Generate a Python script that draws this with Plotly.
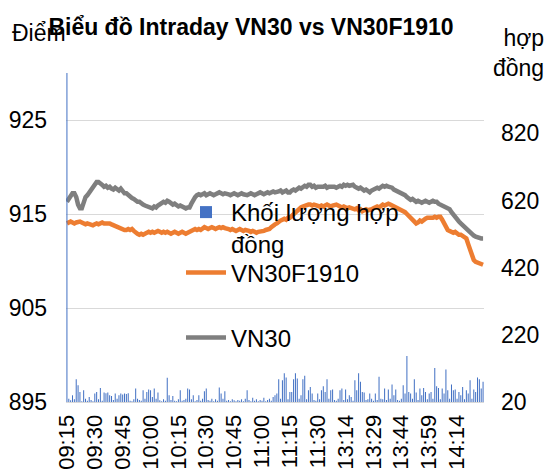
import plotly.graph_objects as go

# ---- categories (minute timestamps of the trading sessions) ----
def minutes(h0, m0, h1, m1):
    out = []
    t = h0 * 60 + m0
    while t <= h1 * 60 + m1:
        out.append(f"{t // 60:02d}:{t % 60:02d}")
        t += 1
    return out

TIMES = minutes(9, 15, 11, 30) + minutes(13, 0, 14, 28)

TICK_LABELS = ["09:15", "09:30", "09:45", "10:00", "10:15", "10:30", "10:45", "11:00",
               "11:15", "11:30", "13:14", "13:29", "13:44", "13:59", "14:14"]

VN30 = [
    916.3, 916.6, 917.0, 917.2, 917.2, 916.8, 916.0, 915.6, 915.6, 916.2, 916.8, 917.0, 917.3, 917.7, 918.0,
    918.3, 918.4, 918.4, 918.3, 918.1, 917.9, 918.0, 917.8, 917.9, 917.7, 917.6, 917.8, 917.7, 917.5, 917.7,
    917.4, 917.2, 917.2, 917.0, 916.9, 916.7, 916.6, 916.4, 916.3, 916.3, 916.1, 916.0, 915.9, 915.8, 915.7,
    915.6, 915.6, 915.8, 915.7, 915.9, 916.0, 916.1, 916.3, 916.2, 916.4, 916.3, 916.2, 916.0, 916.1, 915.9,
    915.8, 915.9, 915.8, 915.7, 915.6, 915.7, 915.7, 916.1, 916.5, 916.8, 917.0, 917.1, 917.0, 917.1, 917.2,
    917.0, 917.1, 917.2, 917.1, 917.0, 917.1, 917.2, 917.3, 917.2, 917.1, 917.2, 917.2, 917.1, 917.0, 917.1,
    917.2, 917.1, 917.0, 917.1, 917.2, 917.1, 917.0, 917.0, 917.1, 917.2, 917.1, 917.0, 917.1, 917.2, 917.3,
    917.2, 917.1, 917.2, 917.3, 917.2, 917.3, 917.4, 917.3, 917.3, 917.4, 917.5, 917.3, 917.4, 917.5, 917.3,
    917.3, 917.5, 917.6, 917.5, 917.7, 917.8, 917.7, 917.8, 918.0, 917.9, 918.1, 918.1, 917.9, 918.0, 917.8,
    917.9, 917.9, 917.8, 917.9, 918.0, 917.8, 917.9, 917.9, 918.0, 917.9, 917.8, 917.9, 918.0, 917.9, 918.1,
    918.0, 918.1, 918.0, 918.1, 918.1, 917.9, 917.8, 917.7, 917.8, 917.6, 917.5, 917.6, 917.4, 917.3, 917.5,
    917.6, 917.7, 917.8, 917.7, 917.9, 918.0, 917.9, 918.0, 917.9, 917.9, 917.8, 917.6, 917.5, 917.4, 917.3,
    917.2, 917.2, 917.0, 916.8, 916.7, 916.5, 916.6, 916.4, 916.3, 916.4, 916.3, 916.2, 916.3, 916.4, 916.3,
    916.2, 916.3, 916.4, 916.3, 916.3, 916.1, 916.0, 915.9, 915.8, 915.8, 915.7, 915.5, 915.2, 914.9, 914.6,
    914.4, 914.2, 914.0, 913.8, 913.6, 913.4, 913.2, 913.1, 912.9, 912.7, 912.6, 912.5, 912.4, 912.4, 912.4,
]

VN30F1910 = [
    914.0, 914.1, 914.2, 914.1, 914.0, 914.1, 914.2, 914.2, 914.1, 914.0, 913.9, 914.0, 913.9, 913.8, 913.8,
    913.9, 914.0, 913.9, 914.0, 914.1, 914.0, 914.0, 914.1, 914.0, 913.9, 913.8, 913.7, 913.6, 913.5, 913.4,
    913.4, 913.3, 913.3, 913.4, 913.3, 913.4, 913.2, 913.0, 912.9, 912.8, 912.9, 912.8, 912.9, 913.0, 913.1,
    913.0, 913.1, 913.0, 913.1, 913.2, 913.1, 913.0, 913.1, 913.0, 913.1, 913.0, 912.9, 913.0, 913.1, 913.0,
    912.9, 913.0, 913.1, 913.0, 912.9, 913.0, 913.1, 913.2, 913.3, 913.4, 913.3, 913.4, 913.3, 913.5, 913.6,
    913.5, 913.4, 913.5, 913.6, 913.5, 913.4, 913.5, 913.6, 913.5, 913.6, 913.5, 913.5, 913.4, 913.3, 913.4,
    913.3, 913.2, 913.3, 913.4, 913.3, 913.2, 913.3, 913.3, 913.2, 913.1, 913.2, 913.1, 913.0, 913.1, 913.1,
    913.2, 913.2, 913.3, 913.3, 913.4, 913.6, 913.8, 913.9, 914.0, 914.2, 914.3, 914.4, 914.5, 914.4, 914.6,
    914.6, 914.8, 915.0, 915.2, 915.4, 915.6, 915.7, 915.8, 915.9, 916.0, 916.0, 916.0, 915.9, 916.0, 915.9,
    915.9, 915.8, 915.9, 915.8, 915.9, 916.0, 915.9, 915.8, 915.9, 916.0, 916.0, 915.9, 915.8, 915.7, 915.8,
    915.7, 915.6, 915.7, 915.6, 915.6, 915.5, 915.6, 915.4, 915.5, 915.3, 915.4, 915.5, 915.4, 915.4, 915.5,
    915.6, 915.7, 915.8, 915.7, 915.9, 916.0, 915.9, 916.0, 916.1, 916.0, 915.9, 915.8, 915.7, 915.6, 915.5,
    915.5, 915.4, 915.2, 915.0, 914.8, 914.6, 914.4, 914.2, 914.0, 914.1, 914.3, 914.2, 914.4, 914.5, 914.6,
    914.6, 914.5, 914.6, 914.7, 914.6, 914.7, 914.7, 914.4, 914.0, 913.6, 913.3, 913.2, 913.1, 913.0, 913.1,
    912.9, 912.8, 912.8, 912.7, 912.5, 912.4, 911.8, 911.2, 910.6, 910.1, 909.9, 909.8, 909.7, 909.6, 909.6,
]

VOLUME = [
    1500, 30, 25, 40, 28, 88, 70, 50, 22, 55, 30, 24, 35, 26, 22,
    45, 50, 28, 62, 24, 48, 46, 48, 40, 38, 26, 45, 30, 40, 45,
    42, 45, 44, 46, 24, 22, 28, 60, 30, 26, 24, 55, 30, 50, 57,
    55, 35, 60, 30, 48, 25, 22, 28, 24, 92, 40, 26, 38, 24, 22,
    28, 55, 24, 26, 30, 60, 57, 28, 40, 22, 26, 40, 24, 30, 52,
    60, 26, 24, 30, 22, 28, 24, 63, 45, 30, 52, 24, 26, 22, 28,
    25, 22, 26, 24, 28, 22, 30, 55, 26, 22, 33, 24, 28, 22, 26,
    24, 33, 22, 26, 30, 24, 35, 40, 45, 88, 30, 85, 106, 93, 28,
    50, 50, 88, 106, 90, 30, 40, 88, 98, 28, 55, 65, 45, 26, 24,
    45, 28, 55, 67, 50, 88, 30, 55, 57, 26, 24, 30, 55, 60, 26,
    57, 28, 40, 35, 24, 85, 55, 106, 80, 50, 48, 26, 28, 45, 30,
    24, 45, 26, 95, 30, 28, 60, 26, 57, 30, 72, 40, 57, 26, 24,
    30, 70, 45, 157, 50, 45, 30, 88, 48, 26, 60, 40, 62, 50, 28,
    45, 50, 30, 121, 67, 62, 28, 60, 45, 117, 55, 30, 72, 55, 57,
    30, 50, 40, 65, 28, 55, 45, 85, 30, 57, 50, 93, 88, 60, 80,
]

LEFT_TICKS = [895, 905, 915, 925]
RIGHT_TICKS = [20, 220, 420, 620, 820]

FONT = "Liberation Sans, Arial, sans-serif"
FS = 23

fig = go.Figure()
fig.add_trace(go.Bar(
    x=TIMES, y=VOLUME, name="Khối lượng hợp<br>đồng", yaxis="y2",
    marker=dict(color="#4472C4", line=dict(width=0)), legend="legend",
))
fig.add_trace(go.Scatter(
    x=TIMES, y=VN30F1910, name="VN30F1910", mode="lines",
    line=dict(color="#ED7D31", width=4.5), legend="legend2",
))
fig.add_trace(go.Scatter(
    x=TIMES, y=VN30, name="VN30", mode="lines",
    line=dict(color="#7F7F7F", width=4.5), legend="legend3",
))

L, R, T, B = 66, 66, 73, 67
W, H = 550, 469
pw, ph = W - L - R, H - T - B

def px(xp):
    return (xp - L) / pw

def py(yp):
    return (H - B - yp) / ph

leg_common = dict(font=dict(family=FONT, size=24, color="#000000"),
                  bgcolor="rgba(0,0,0,0)", xanchor="left", yanchor="middle",
                  valign="top", itemwidth=40)

fig.update_layout(
    width=W, height=H,
    showlegend=True,
    margin=dict(l=L, r=R, t=T, b=B, pad=0, autoexpand=False),
    paper_bgcolor="white", plot_bgcolor="white",
    font=dict(family=FONT, size=FS, color="#000000"),
    title=dict(text="<b>Biểu đồ Intraday VN30 vs VN30F1910</b>",
               x=251 / W, xanchor="center", xref="container",
               y=1 - 27 / H, yanchor="middle", yref="container",
               font=dict(family=FONT, size=FS, color="#000000")),
    bargap=0.45,
    xaxis=dict(type="category", range=[-0.5, len(TIMES) - 0.5],
               tickmode="array", tickvals=TICK_LABELS, ticktext=TICK_LABELS,
               tickangle=-90, ticks="", showgrid=False,
               showline=True, linecolor="#D9D9D9", linewidth=1,
               tickfont=dict(family=FONT, size=22), ticklabelstandoff=3),
    yaxis=dict(range=[895, 930], tickvals=LEFT_TICKS, ticks="",
               showgrid=True, gridcolor="#D9D9D9", gridwidth=1,
               zeroline=False, showline=False, ticklabelstandoff=18),
    yaxis2=dict(range=[20, 1000], tickvals=RIGHT_TICKS, overlaying="y",
                side="right", ticks="", showgrid=False, zeroline=False,
                showline=False, ticklabelstandoff=16),
    legend=dict(x=px(181), y=py(228), **leg_common),
    legend2=dict(x=px(181), y=py(273), **leg_common),
    legend3=dict(x=px(181), y=py(338), **leg_common),
    annotations=[
        dict(text="Điểm", xref="paper", yref="paper", x=px(10), y=py(33),
             xanchor="left", yanchor="middle", showarrow=False,
             font=dict(family=FONT, size=FS, color="#000000")),
        dict(text="hợp<br>đồng", xref="paper", yref="paper", x=px(546), y=py(53),
             xanchor="right", yanchor="middle", align="right", showarrow=False,
             font=dict(family=FONT, size=FS, color="#000000")),
    ],
)

fig.write_html("out.html",
               config={"displayModeBar": False, "staticPlot": True},
               post_script="document.body.style.margin='0';document.body.style.overflow='hidden';")
